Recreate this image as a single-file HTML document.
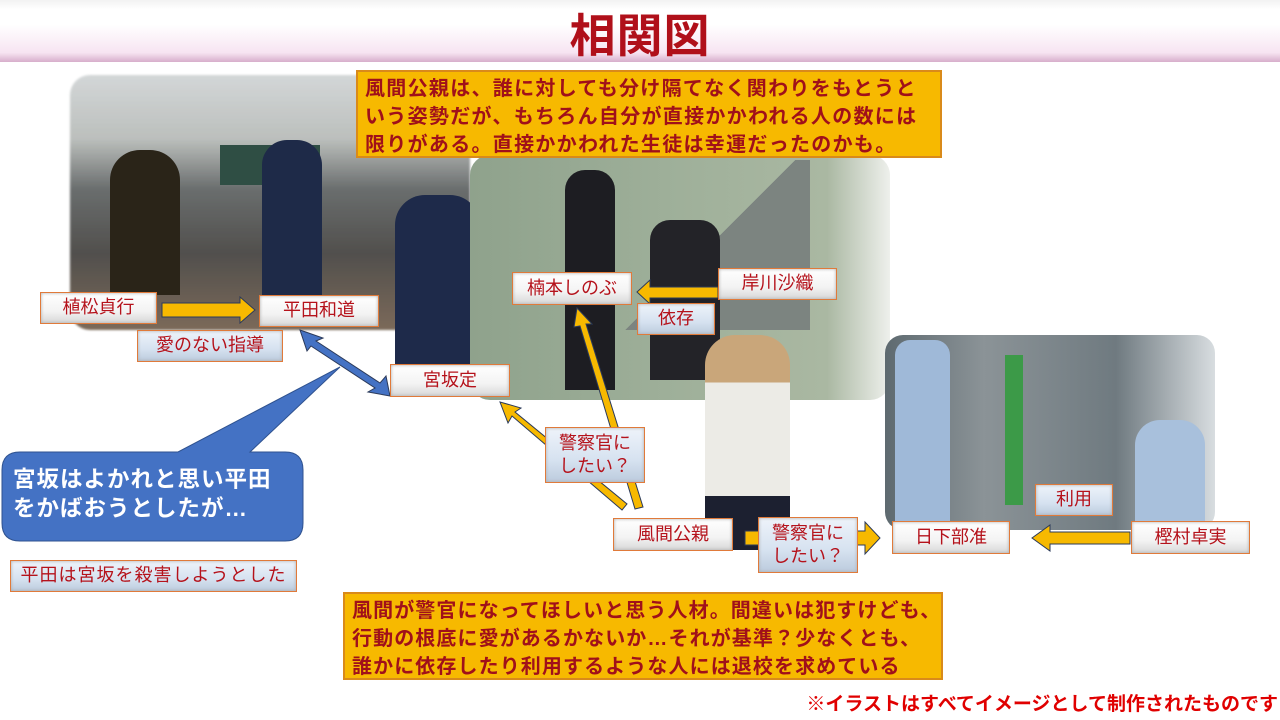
<!DOCTYPE html>
<html><head><meta charset="utf-8"><style>
body{margin:0;width:1280px;height:720px;position:relative;overflow:hidden;background:#fff;font-family:"Liberation Sans","Noto Sans CJK JP",sans-serif}
.a{position:absolute}
.lb{position:absolute;box-sizing:border-box;border:1.5px solid #e07a3a;background:linear-gradient(#fff,#f3f3f3 60%,#d8d8d8);color:#b5121b;font-size:18px;display:flex;align-items:center;justify-content:center;text-align:center;line-height:1.3;box-shadow:inset 0 0 3px #aaa;white-space:nowrap}
.bl{background:linear-gradient(#eef3fa,#d6e2f0 60%,#bccbdd)}
.yb{position:absolute;box-sizing:border-box;background:#f7b900;border:2px solid #d98a1a;color:#a0101a;font-weight:bold;font-size:20px;line-height:28px;padding:3px 7px;white-space:nowrap}
</style></head><body>
<div class="a" style="left:0;top:0;width:1280px;height:62px;background:linear-gradient(#f2f2f2,#fff 15%,#fff 40%,#f7e4f2 85%,#d7aecb);"></div>
<div class="a" style="left:0;top:0px;width:1280px;text-align:center;font-size:46px;font-weight:bold;color:#b0101a;letter-spacing:1px">相関図</div>

<div class="a" style="left:70px;top:75px;width:400px;height:255px;background:linear-gradient(180deg,#cfd3d4 0%,#b5b9b6 25%,#5a5e5e 45%,#3f3d3a 70%,#6e5a48 100%);filter:blur(1px);border-radius:20px;opacity:.9"></div>
<div class="a" style="left:220px;top:145px;width:100px;height:40px;background:#2f4e44"></div>
<div class="a" style="left:110px;top:150px;width:70px;height:145px;background:#2a2418;border-radius:30px 30px 0 0"></div>
<div class="a" style="left:262px;top:140px;width:60px;height:155px;background:#1e2a48;border-radius:25px 25px 0 0"></div>
<div class="a" style="left:395px;top:195px;width:85px;height:170px;background:#1e2a4a;border-radius:30px 30px 0 0"></div>
<div class="a" style="left:470px;top:155px;width:420px;height:245px;background:linear-gradient(90deg,#8fa28c,#9fb09a 50%,#aab8a2 85%,#eef0ec);border-radius:20px"></div>
<div class="a" style="left:610px;top:160px;width:200px;height:170px;background:linear-gradient(135deg,transparent 50%,#7c8480 50%)"></div>
<div class="a" style="left:565px;top:170px;width:50px;height:220px;background:#1d1d22;border-radius:20px 20px 0 0"></div>
<div class="a" style="left:650px;top:220px;width:70px;height:160px;background:#232328;border-radius:20px 20px 0 0"></div>
<div class="a" style="left:885px;top:335px;width:330px;height:195px;background:linear-gradient(90deg,#5e6a70,#8b9397 30%,#6f7a80 70%,#d8dde0);border-radius:18px"></div>
<div class="a" style="left:1005px;top:355px;width:18px;height:150px;background:#3c9a48"></div>
<div class="a" style="left:895px;top:340px;width:55px;height:190px;background:#9fb9d8;border-radius:15px 15px 0 0"></div>
<div class="a" style="left:1135px;top:420px;width:70px;height:110px;background:#a8c0dc;border-radius:25px 25px 0 0"></div>
<div class="a" style="left:705px;top:335px;width:85px;height:215px;background:linear-gradient(#c9a67a 0 22%,#ecebe6 22% 75%,#1c2030 75%);border-radius:30px 30px 0 0"></div>

<div class="yb" style="left:356px;top:70px;width:586px;height:88px;letter-spacing:1.3px">風間公親は、誰に対しても分け隔てなく関わりをもとうと<br>いう姿勢だが、もちろん自分が直接かかわれる人の数には<br>限りがある。直接かかわれた生徒は幸運だったのかも。</div>
<div class="yb" style="left:343px;top:592px;width:600px;height:88px;letter-spacing:1.1px">風間が警官になってほしいと思う人材。間違いは犯すけども、<br>行動の根底に愛があるかないか…それが基準？少なくとも、<br>誰かに依存したり利用するような人には退校を求めている</div>

<svg class="a" style="left:0;top:0" width="1280" height="720">
<g fill="#f7b900" stroke="#2b3a5a" stroke-width="1">
<polygon points="162,303 240,303 240,297 255,310 240,323 240,317 162,317"/>
<polygon points="637,292 650,280 650,287 718,287 718,298 650,298 650,304"/>
<polygon points="1130,532 1050,532 1050,525 1032,538 1050,551 1050,544 1130,544"/>
<polygon points="745,531 865,531 865,522 880,538 865,554 865,545 745,545"/>
<polygon points="622,510 512,416 508,423 500,402 521,408 515,412 627,504"/>
<polygon points="643,507 586,324 592,324 577,308 574,327 580,326 635,509"/>
</g>
<polygon points="300,330 323,338 316,341 380,383 386,376 390,396 368,392 375,388 311,346 307,351" fill="#4472c4" stroke="#2b3a5a"/>
<path d="M20,452 H178 L340,367 L250,452 H285 Q303,452 303,470 V523 Q303,541 285,541 H20 Q2,541 2,523 V470 Q2,452 20,452Z" fill="#4472c4" stroke="#2f528f"/>
</svg>
<div class="a" style="left:13px;top:465px;color:#fff;font-size:22.5px;line-height:29px;font-weight:bold;letter-spacing:1px;white-space:nowrap">宮坂はよかれと思い平田<br>をかばおうとしたが…</div>

<div class="lb" style="left:40px;top:292px;width:117px;height:32px">植松貞行</div>
<div class="lb" style="left:259px;top:295px;width:120px;height:32px">平田和道</div>
<div class="lb bl" style="left:137px;top:330px;width:146px;height:32px">愛のない指導</div>
<div class="lb" style="left:390px;top:364px;width:120px;height:33px">宮坂定</div>
<div class="lb" style="left:512px;top:272px;width:120px;height:33px">楠本しのぶ</div>
<div class="lb" style="left:718px;top:268px;width:119px;height:32px">岸川沙織</div>
<div class="lb bl" style="left:637px;top:303px;width:78px;height:32px">依存</div>
<div class="lb bl" style="left:545px;top:427px;width:100px;height:56px">警察官に<br>したい？</div>
<div class="lb" style="left:613px;top:518px;width:120px;height:33px">風間公親</div>
<div class="lb bl" style="left:758px;top:517px;width:100px;height:56px">警察官に<br>したい？</div>
<div class="lb" style="left:892px;top:521px;width:118px;height:33px">日下部准</div>
<div class="lb bl" style="left:1035px;top:484px;width:78px;height:32px">利用</div>
<div class="lb" style="left:1131px;top:521px;width:119px;height:33px">樫村卓実</div>
<div class="lb bl" style="left:10px;top:560px;width:287px;height:32px;letter-spacing:1px">平田は宮坂を殺害しようとした</div>

<div class="a" style="right:2px;top:689px;color:#e00000;font-size:19px;font-weight:bold;white-space:nowrap">※イラストはすべてイメージとして制作されたものです</div>
</body></html>
